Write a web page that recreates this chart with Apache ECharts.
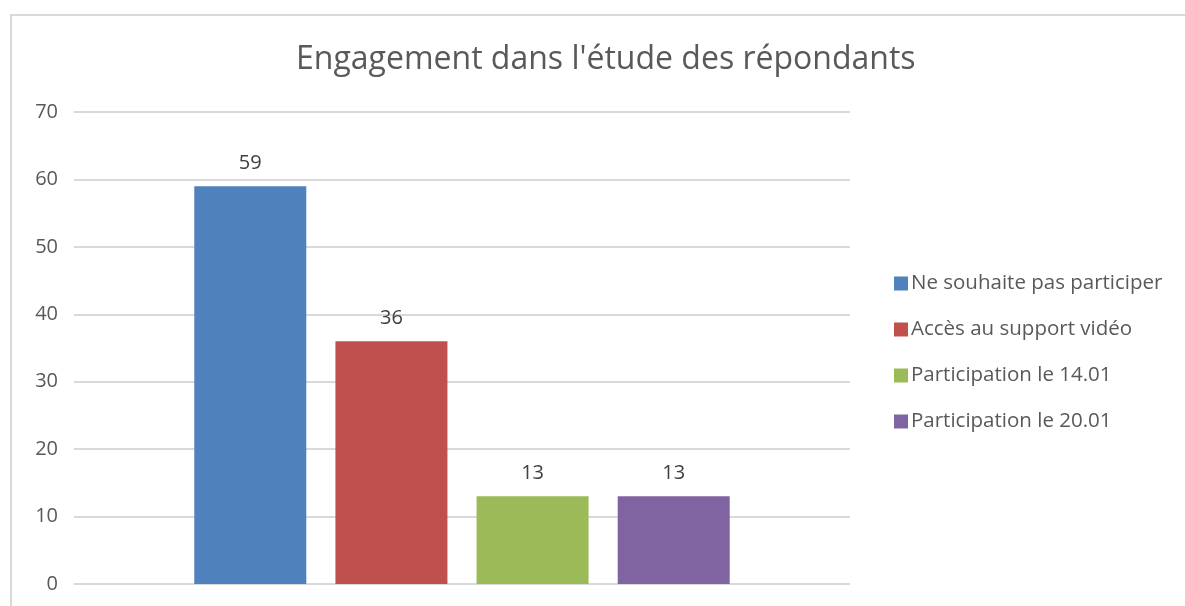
<!DOCTYPE html>
<html>
<head>
<meta charset="utf-8">
<script src="https://cdn.jsdelivr.net/npm/echarts@6/dist/echarts.min.js"></script>
<style>
    html, body { margin: 0; padding: 0; background: #fff; }
    #frame { position: absolute; left: 10px; top: 14px; width: 1200px; height: 620px;
             border-left: 2px solid #d9d9d9; border-top: 2px solid #d9d9d9; }
    #chart { position: absolute; left: 0; top: 0; width: 1185px; height: 606px; }
</style>
</head>
<body>
<div id="frame"></div>
<div id="chart"></div>
<script>
const title = "Engagement dans l'étude des répondants";
const categories = [''];
const seriesNames = ['Ne souhaite pas participer', 'Accès au support vidéo', 'Participation le 14.01', 'Participation le 20.01'];
const seriesValues = [59, 36, 13, 13];
const seriesColors = ['#4F81BD', '#C0504D', '#9BBB59', '#8064A2'];
const yTicks = [0, 10, 20, 30, 40, 50, 60, 70];

const font = '"Open Sans", "Noto Sans", sans-serif';
const chart = echarts.init(document.getElementById('chart'));

const option = {
    animation: false,
    textStyle: { fontFamily: font },
    title: {
        text: title,
        left: 291,
        top: 39,
        textStyle: { fontFamily: font, fontSize: 32, fontWeight: 'normal', color: '#595959' }
    },
    legend: {
        orient: 'vertical',
        left: 889,
        top: 268,
        itemWidth: 14,
        itemHeight: 14,
        itemGap: 25,
        icon: 'rect',
        data: seriesNames,
        textStyle: { fontFamily: font, fontSize: 20.5, lineHeight: 20, color: '#595959', padding: [0, 0, 0, -2] }
    },
    grid: { left: 74, right: 335, top: 112, bottom: 22 },
    xAxis: {
        type: 'category',
        data: categories,
        axisLine: { show: false },
        axisTick: { show: false },
        axisLabel: { show: false }
    },
    yAxis: {
        type: 'value',
        min: yTicks[0],
        max: yTicks[yTicks.length - 1],
        interval: 10,
        axisLine: { show: false },
        axisTick: { show: false },
        axisLabel: { fontFamily: font, fontSize: 20, color: '#595959', margin: 16 },
        splitLine: { lineStyle: { color: '#d9d9d9', width: 2 } }
    },
    series: seriesNames.map((name, i) => ({
        name: name,
        type: 'bar',
        data: [seriesValues[i]],
        barCategoryGap: '31%',
        barGap: '26%',
        itemStyle: { color: seriesColors[i] },
        label: {
            show: true,
            position: 'top',
            distance: 13,
            fontFamily: font,
            fontSize: 20,
            color: '#404040'
        }
    }))
};

chart.setOption(option);
</script>
</body>
</html>
